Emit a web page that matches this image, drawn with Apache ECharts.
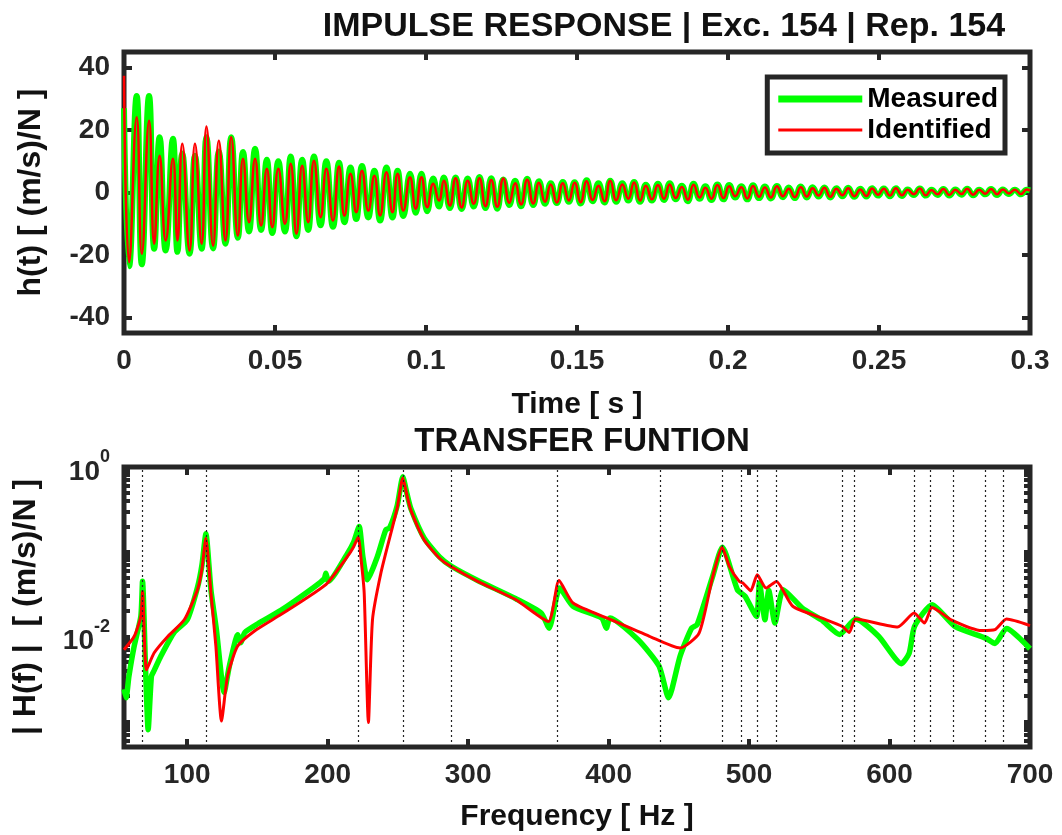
<!DOCTYPE html>
<html><head><meta charset="utf-8">
<script src="https://cdn.jsdelivr.net/npm/echarts@6/dist/echarts.min.js"></script>
<style>html,body{margin:0;padding:0;background:#fff}#c{width:1062px;height:835px}</style>
</head><body><div id="c"></div>
<script>
// ---------------- DATA ----------------
// Impulse response: times (s) of the read extremes, and values ((m/s)/N)
const impulseTime = [0, .0017, .0042, .0059, .0083, .0100, .0118, .0138, .0162, .0177, .0193, .0217, .0235, .0257, .0273, .0295, .0314, .0336, .0355, .0377, .0394, .0414, .0434, .0454, .0473, .0491, .0511, .0533, .0552, .0571, .0590, .0610, .0629, .0651, .0670, .0692, .0712, .0730, .0750, .0769, .0788, .0809, .0829, .0848, .0869, .0889, .0906, .0925, .0947, .0966, .0985, .1004, .1024, .1043, .1059,
  .1079, .1098, .1118, .1138, .1158, .1177, .1197, .1216, .1236, .1256, .1276, .1295, .1315, .1335, .1355, .1374, .1394, .1413, .1433, .1453, .1473, .1492, .1512, .1532, .1552, .1571, .1591, .1610, .1630, .1650, .1670, .1689, .1709, .1728, .1748, .1768, .1788, .1807, .1827, .1847, .1867, .1886, .1906, .1925, .1945, .1965, .1985, .2004, .2024, .2044, .2064, .2083, .2103, .2122, .2142, .2162, .2182, .2201, .2221, .2241, .2261, .2280, .2300, .2319, .2339, .2359, .2379, .2398, .2418, .2438, .2458, .2477, .2497, .2516, .2536, .2556, .2576, .2595, .2615, .2635, .2655, .2674, .2694, .2713, .2733, .2753, .2773, .2792, .2812, .2832, .2852, .2871, .2891, .2910, .2930, .2950, .2970, .2989, .3000];
const measuredImpulse = [27, -23.6, 30.9, -23.0, 30.9, -18.0, 17.7, -18.6, 17.2, -19.0, 12.5, -19.6, 11.8, -18.0, 17.7, -17.9, 13.1, -16.4, 17.7, -14.5, 13.0, -12.5, 14.0, -12.0, 10.5, -13.0, 10.0, -12.5, 11.5, -14.0, 10.5, -12.0, 11.5, -10.5, 10.0, -11.0, 9.5, -9.5, 8.0, -8.5, 8.5, -8.0, 7.0, -9.0, 8.0, -8.0, 7.0, -7.5, 6.0, -6.5, 6.0, -6.0, 4.5, -4.5, 4.8,
  -5.0, 4.8, -5.3, 4.5, -4.5, 5.0, -5.0, 4.6, -5.2, 4.2, -4.0, 3.8, -4.4, 4.4, -4.0, 3.6, -3.6, 3.0, -3.4, 3.4, -3.0, 3.3, -3.5, 3.9, -2.8, 3.0, -3.2, 3.8, -3.0, 3.0, -2.6, 3.4, -3.0, 2.5, -2.6, 2.8, -2.4, 3.0, -2.2, 2.2, -2.8, 2.8, -2.0, 2.0, -2.4, 2.6, -2.2, 2.4, -1.6, 2.0, -2.2, 2.3, -1.8, 1.9, -1.9, 2.1, -1.5, 1.6, -1.8, 1.9, -1.6, 1.7, -1.3, 1.6, -1.6, 1.4, -1.2, 1.5, -1.4, 1.2, -1.3, 1.4, -1.0, 1.3, -1.2, 1.4, -1.1, 1.0, -0.8, 1.3, -1.0, 0.9, -0.8, 1.1, -1.0, 1.0, -0.7, 1.2, -0.9, 0.9, -0.6, 1.1, -0.8, 1.0, -0.5, 0.9, -0.6, 0.9, 0.7];
const identifiedImpulse = [37.4, -22.3, 24.1, -19.6, 23.0, -16.4, 11.8, -15.4, 10.8, -15.4, 15.6, -18.6, 15.6, -16.4, 21.1, -17.0, 16.6, -15.4, 17.7, -13.8, 10.8, -9.5, 10.8, -10.6, 7.6, -11.1, 7.6, -10.0, 9.2, -13.2, 8.6, -9.5, 10.2, -7.9, 7.6, -9.0, 8.3, -7.4, 6.0, -6.3, 7.0, -5.8, 5.4, -7.4, 6.5, -6.3, 6.0, -5.8, 4.9, -5.2, 4.9, -4.7, 2.8, -2.6, 3.8,
  -4.2, 4.6, -4.8, 3.8, -3.6, 4.6, -4.4, 4.0, -4.6, 4.5, -3.3, 3.0, -3.8, 4.1, -3.5, 3.1, -3.0, 2.6, -3.2, 3.0, -2.6, 3.1, -3.1, 3.6, -2.4, 2.2, -2.8, 3.8, -2.5, 2.6, -2.0, 3.2, -2.6, 2.2, -2.2, 2.4, -2.0, 2.6, -1.8, 1.8, -2.3, 2.5, -1.6, 1.5, -2.0, 2.4, -1.8, 2.0, -1.2, 1.7, -1.9, 2.1, -1.4, 1.6, -1.6, 2.0, -1.2, 1.2, -1.5, 1.7, -1.3, 1.4, -1.0, 1.5, -1.4, 1.2, -0.9, 1.4, -1.2, 1.0, -1.1, 1.3, -0.7, 1.2, -1.0, 1.4, -0.9, 0.9, -0.6, 1.3, -0.9, 0.8, -0.6, 1.1, -0.8, 0.9, -0.5, 1.2, -0.7, 0.9, -0.4, 1.1, -0.6, 1.0, -0.3, 0.9, -0.5, 1.0, 0.6];

// Transfer function |H(f)|
const freqMeasured = [55, 56.5, 58.5, 62.3, 67, 68.2, 70.3, 72.2, 74.5, 76.5, 81.3, 90.7, 100, 107.3, 110.5, 113.3, 116.9, 120.8, 126.3, 130, 136, 138.2, 141, 150, 166.7, 190, 197.5, 198.7, 200.5, 214, 218.5, 222.4, 225, 228.3, 235.4, 241.4, 244, 249.5, 253.5, 256.5, 259.2, 268.7, 279.6, 287.8, 306.8, 334, 352, 357.6, 365.2, 374.7, 395, 398.4, 401, 421, 435.9, 442.7, 450.9, 459.1, 463, 474, 481, 491.7, 497.1, 505.3, 507.4, 511.3, 514, 518.4, 524.3, 537.9, 551.5, 564.5, 575.9, 592.2, 608.5, 614, 617.8, 630.3, 646.6, 668.4, 675.1, 683.3, 700];
const magMeasured = [2.4e-3, 1.9e-3, 3.4e-3, 7.8e-3, 1.74e-2, 4.5e-2, 4.5e-3, 8.0e-4, 3.4e-3, 4.0e-3, 5.9e-3, 1.12e-2, 1.58e-2, 3.8e-2, 7.0e-2, 0.163, 3.55e-2, 1.2e-2, 2.2e-3, 4.5e-3, 1.05e-2, 8.5e-3, 1.12e-2, 1.41e-2, 2.04e-2, 3.8e-2, 4.8e-2, 5.6e-2, 4.5e-2, 9.5e-2, 0.13, 0.199, 8.9e-2, 4.7e-2, 8.8e-2, 0.182, 0.19, 0.35, 0.766, 0.48, 0.324, 0.145, 8.7e-2, 6.8e-2, 4.6e-2, 2.8e-2, 1.9e-2, 1.26e-2, 3.74e-2, 2.28e-2, 1.66e-2, 1.26e-2, 1.66e-2, 9.2e-3, 4.5e-3, 1.9e-3, 5.9e-3, 1.26e-2, 1.38e-2, 5.1e-2, 0.1135, 3.57e-2, 3.0e-2, 1.73e-2, 4.28e-2, 1.58e-2, 3.51e-2, 1.45e-2, 3.57e-2, 2.17e-2, 1.58e-2, 1.06e-2, 1.61e-2, 1.01e-2, 4.8e-3, 6.4e-3, 1.32e-2, 2.38e-2, 1.32e-2, 9.6e-3, 8.3e-3, 1.25e-2, 7.2e-3];
const freqIdentified = [55, 62.3, 67, 68.2, 71, 76.5, 86, 97.9, 107.3, 110.5, 113.3, 116.9, 120.4, 124.4, 128.7, 135.8, 147.7, 166.7, 190.4, 199.9, 214.1, 218.5, 221.7, 224, 226, 229, 231.9, 237.9, 245, 249.5, 253.5, 256.5, 259.2, 268.7, 279.6, 287.8, 306.8, 334, 357.1, 364.7, 374.7, 401.9, 429.1, 450.9, 464.4, 474, 480.8, 486, 493, 495.7, 501.2, 505.8, 512.1, 519.4, 531.1, 551.5, 566.4, 571.3, 575.9, 605.8, 617.5, 624.9, 630.3, 643.9, 665.7, 675.1, 683.3, 700];
const magIdentified = [7.0e-3, 1.01e-2, 1.74e-2, 3.41e-2, 4.07e-3, 6.46e-3, 1.0e-2, 1.58e-2, 3.57e-2, 6.3e-2, 0.145, 3.27e-2, 7.76e-3, 1.01e-3, 3.41e-3, 7.69e-3, 1.16e-2, 1.82e-2, 3.27e-2, 4.29e-2, 8.81e-2, 0.115, 0.149, 7.5e-2, 3.27e-2, 9.7e-4, 1.58e-2, 5.62e-2, 0.166, 0.33, 0.74, 0.46, 0.31, 0.138, 8.41e-2, 6.71e-2, 4.48e-2, 2.72e-2, 1.51e-2, 4.6e-2, 2.49e-2, 1.58e-2, 1.01e-2, 7.36e-3, 1.1e-2, 5.0e-2, 0.1135, 6.7e-2, 4.48e-2, 4.28e-2, 3.48e-2, 5.36e-2, 3.74e-2, 4.48e-2, 2.28e-2, 1.66e-2, 1.32e-2, 1.12e-2, 1.61e-2, 1.3e-2, 1.9e-2, 1.45e-2, 2.21e-2, 1.58e-2, 1.18e-2, 1.21e-2, 1.61e-2, 1.35e-2];
const naturalFreqs = [68.2, 113.3, 221.9, 253.5, 288.2, 363.6, 436.7, 481.1, 494.4, 505.8, 519.4, 566.2, 574.6, 617.5, 629, 645.3, 668.4, 681.2];

// Ticks
const timeTicks = [0, 0.05, 0.1, 0.15, 0.2, 0.25, 0.3];
const impulseTicks = [-40, -20, 0, 20, 40];
const freqTicks = [100, 200, 300, 400, 500, 600, 700];
const magLabelTicks = [1e-2, 1];
const magTicks = [6e-4, 7e-4, 8e-4, 9e-4, 1e-3, 2e-3, 3e-3, 4e-3, 5e-3, 6e-3, 7e-3, 8e-3, 9e-3, 1e-2, 2e-2, 3e-2, 4e-2, 5e-2, 6e-2, 7e-2, 8e-2, 9e-2, 0.1, 0.2, 0.3, 0.4, 0.5, 0.6, 0.7, 0.8, 0.9, 1];

// ---------------- CHART ----------------
const FONT = '"Liberation Sans", Arial, sans-serif';
const AX = '#262626';
const zip = (a, b) => a.map((v, i) => [v, b[i]]);
const tick = (vals) => ({show: true, inside: true, length: 8, customValues: vals, lineStyle: {color: AX, width: 4}});
const lbl = (extra) => Object.assign({fontSize: 28, fontWeight: 'bold', color: AX, fontFamily: FONT, margin: 14}, extra);
const nameStyle = {fontSize: 30, fontWeight: 'bold', color: '#111', fontFamily: FONT};
const yNameStyle = {fontSize: 32, fontWeight: 'bold', color: '#111', fontFamily: FONT};
const noLine = {show: false, onZero: false};

const chart = echarts.init(document.getElementById('c'), null, {renderer: 'canvas'});
chart.setOption({
  animation: false,
  backgroundColor: '#fff',
  title: [
    {text: 'IMPULSE RESPONSE | Exc. 154 | Rep. 154', left: 659, top: 5, textAlign: 'center',
     textStyle: {fontSize: 34, fontWeight: 'bold', color: '#111', fontFamily: FONT}},
    {text: 'TRANSFER FUNTION', left: 577, top: 420, textAlign: 'center',
     textStyle: {fontSize: 33, fontWeight: 'bold', color: '#111', fontFamily: FONT}}
  ],
  legend: {
    orient: 'vertical', right: 57, top: 77,
    backgroundColor: '#fff', borderColor: AX, borderWidth: 5,
    padding: [8, 7, 9, 11], itemGap: 3, itemWidth: 84, itemHeight: 26, symbolKeepAspect: true,
    textStyle: {fontSize: 28, lineHeight: 28, fontWeight: 'bold', color: '#000', fontFamily: FONT},
    data: [
      {name: 'Measured', icon: 'path://M0,0H84V7H0Z', itemStyle: {color: '#00ff00'}},
      {name: 'Identified', icon: 'path://M0,0H84V3H0Z', itemStyle: {color: '#ff0000'}}
    ]
  },
  grid: [
    {left: 124, right: 32, top: 52, height: 281, show: true, borderColor: AX, borderWidth: 5, backgroundColor: '#fff'},
    {left: 124, right: 32, top: 467, height: 280, show: true, borderColor: AX, borderWidth: 5, backgroundColor: '#fff'}
  ],
  xAxis: [
    {gridIndex: 0, type: 'value', min: 0, max: 0.3, position: 'bottom',
     axisLine: noLine, splitLine: {show: false}, axisTick: tick(timeTicks),
     axisLabel: lbl({customValues: timeTicks, formatter: v => String(+(+v).toFixed(2))}),
     name: 'Time [ s ]', nameLocation: 'middle', nameGap: 57, nameTextStyle: nameStyle},
    {gridIndex: 0, type: 'value', min: 0, max: 0.3, position: 'top',
     axisLine: noLine, splitLine: {show: false}, axisTick: tick(timeTicks), axisLabel: {show: false}},
    {gridIndex: 1, type: 'value', min: 55, max: 700, position: 'bottom',
     axisLine: noLine, splitLine: {show: false}, axisTick: tick(freqTicks),
     axisLabel: lbl({customValues: freqTicks}),
     name: 'Frequency [ Hz ]', nameLocation: 'middle', nameGap: 55, nameTextStyle: nameStyle},
    {gridIndex: 1, type: 'value', min: 55, max: 700, position: 'top',
     axisLine: noLine, splitLine: {show: false}, axisTick: tick(freqTicks), axisLabel: {show: false}}
  ],
  yAxis: [
    {gridIndex: 0, type: 'value', min: -45, max: 45, position: 'left',
     axisLine: noLine, splitLine: {show: false}, axisTick: tick(impulseTicks),
     axisLabel: lbl({customValues: impulseTicks}),
     name: 'h(t) [ (m/s)/N ]', nameLocation: 'middle', nameGap: 77, nameTextStyle: yNameStyle},
    {gridIndex: 0, type: 'value', min: -45, max: 45, position: 'right',
     axisLine: noLine, splitLine: {show: false}, axisTick: tick(impulseTicks), axisLabel: {show: false}},
    {gridIndex: 1, type: 'log', logBase: 10, min: 5e-4, max: 1, position: 'left',
     axisLine: noLine, splitLine: {show: false}, minorTick: {show: false},
     axisTick: Object.assign(tick(magTicks), {length: 6}),
     axisLabel: lbl({customValues: magLabelTicks,
       formatter: v => '{b|10}{s|' + Math.round(Math.log10(v)) + '}',
       rich: {
         b: {fontSize: 28, fontWeight: 'bold', color: AX, fontFamily: FONT, padding: [10, 0, 0, 0], verticalAlign: 'bottom'},
         s: {fontSize: 18, fontWeight: 'bold', color: AX, fontFamily: FONT, verticalAlign: 'top'}
       }}),
     name: '| H(f) |  [ (m/s)/N ]', nameLocation: 'middle', nameGap: 82, nameTextStyle: yNameStyle},
    {gridIndex: 1, type: 'log', logBase: 10, min: 5e-4, max: 1, position: 'right',
     axisLine: noLine, splitLine: {show: false}, minorTick: {show: false},
     axisTick: Object.assign(tick(magTicks), {length: 6}), axisLabel: {show: false}}
  ],
  series: [
    {name: 'Measured', type: 'line', xAxisIndex: 0, yAxisIndex: 0, symbol: 'none', smooth: 0.5,
     lineStyle: {color: '#00ff00', width: 6}, itemStyle: {color: '#00ff00'}, z: 3,
     data: zip(impulseTime, measuredImpulse)},
    {name: 'Identified', type: 'line', xAxisIndex: 0, yAxisIndex: 0, symbol: 'none', smooth: 0.5,
     lineStyle: {color: '#ff0000', width: 2.5}, itemStyle: {color: '#ff0000'}, z: 4,
     data: zip(impulseTime, identifiedImpulse)},
    {name: 'modes', type: 'line', xAxisIndex: 2, yAxisIndex: 2, symbol: 'none', data: [], z: 2,
     markLine: {silent: true, symbol: ['none', 'none'], label: {show: false},
       lineStyle: {color: '#222', width: 1.2, type: [2, 3]},
       data: naturalFreqs.map(f => ({xAxis: f}))}},
    {name: 'Measured', type: 'line', xAxisIndex: 2, yAxisIndex: 2, symbol: 'none', smooth: 0.2,
     lineStyle: {color: '#00ff00', width: 5.5}, itemStyle: {color: '#00ff00'}, z: 3,
     data: zip(freqMeasured, magMeasured)},
    {name: 'Identified', type: 'line', xAxisIndex: 2, yAxisIndex: 2, symbol: 'none', smooth: 0.2,
     lineStyle: {color: '#ff0000', width: 3}, itemStyle: {color: '#ff0000'}, z: 4,
     data: zip(freqIdentified, magIdentified)}
  ]
});
</script></body></html>
